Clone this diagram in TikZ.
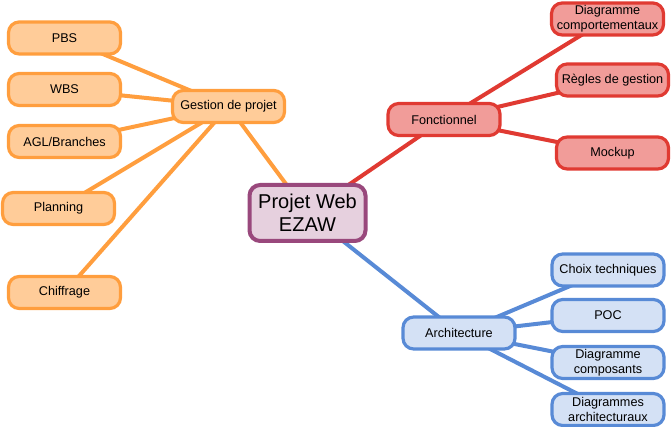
\documentclass[tikz,border=0pt]{standalone}
\usepackage{fontspec}
\setmainfont{Liberation Sans}
\usetikzlibrary{backgrounds}
\definecolor{orB}{RGB}{255,158,62}
\definecolor{orF}{RGB}{255,204,153}
\definecolor{rdB}{RGB}{224,58,50}
\definecolor{rdF}{RGB}{241,156,153}
\definecolor{blB}{RGB}{88,138,214}
\definecolor{blF}{RGB}{212,225,245}
\definecolor{puB}{RGB}{153,72,124}
\definecolor{puF}{RGB}{230,208,222}
\tikzset{
  box/.style={rounded corners=8pt, line width=2.4pt, minimum width=84pt,
    minimum height=24pt, inner sep=1pt, align=center,
    font=\fontsize{9.5}{11.3}\selectfont},
  orbox/.style={box, draw=orB, fill=orF},
  rdbox/.style={box, draw=rdB, fill=rdF},
  blbox/.style={box, draw=blB, fill=blF},
  link/.style={line width=3pt},
}
\begin{document}
\begin{tikzpicture}[x=0.75pt,y=-0.75pt]
\useasboundingbox (0,0) rectangle (671,427);
\node[box, draw=puB, fill=puF, line width=3pt, minimum width=87pt, minimum height=42pt,
  font=\fontsize{15}{17.5}\selectfont] (root) at (307.5,213) {Projet Web\\EZAW};
% orange branch
\node[orbox] (ges) at (228.5,106.5) {Gestion de projet};
\node[orbox] (pbs) at (64.5,38) {PBS};
\node[orbox] (wbs) at (64.5,89.5) {WBS};
\node[orbox] (agl) at (64.5,141.5) {AGL/Branches};
\node[orbox] (pla) at (58.5,208.5) {Planning};
\node[orbox] (chi) at (64.5,292.5) {Chiffrage};
% red branch
\node[rdbox] (fon) at (444,119.5) {Fonctionnel};
\node[rdbox] (dco) at (607.5,19) {Diagramme\\comportementaux};
\node[rdbox] (reg) at (612.5,80) {Règles de gestion};
\node[rdbox] (moc) at (612.5,153) {Mockup};
% blue branch
\node[blbox] (arc) at (459,333) {Architecture};
\node[blbox] (cho) at (608,270) {Choix techniques};
\node[blbox] (poc) at (608,315.5) {POC};
\node[blbox] (dcp) at (608,362.5) {Diagramme\\composants};
\node[blbox] (dar) at (608,409.5) {Diagrammes\\architecturaux};
\begin{scope}[on background layer]
\draw[link, orB] (root.center) -- (ges.center);
\foreach \n in {pbs,wbs,agl,pla,chi} \draw[link, orB] (ges.center) -- (\n.center);
\draw[link, rdB] (root.center) -- (fon.center);
\foreach \n in {dco,reg,moc} \draw[link, rdB] (fon.center) -- (\n.center);
\draw[link, blB] (root.center) -- (arc.center);
\foreach \n in {cho,poc,dcp,dar} \draw[link, blB] (arc.center) -- (\n.center);
\end{scope}
\end{tikzpicture}
\end{document}
